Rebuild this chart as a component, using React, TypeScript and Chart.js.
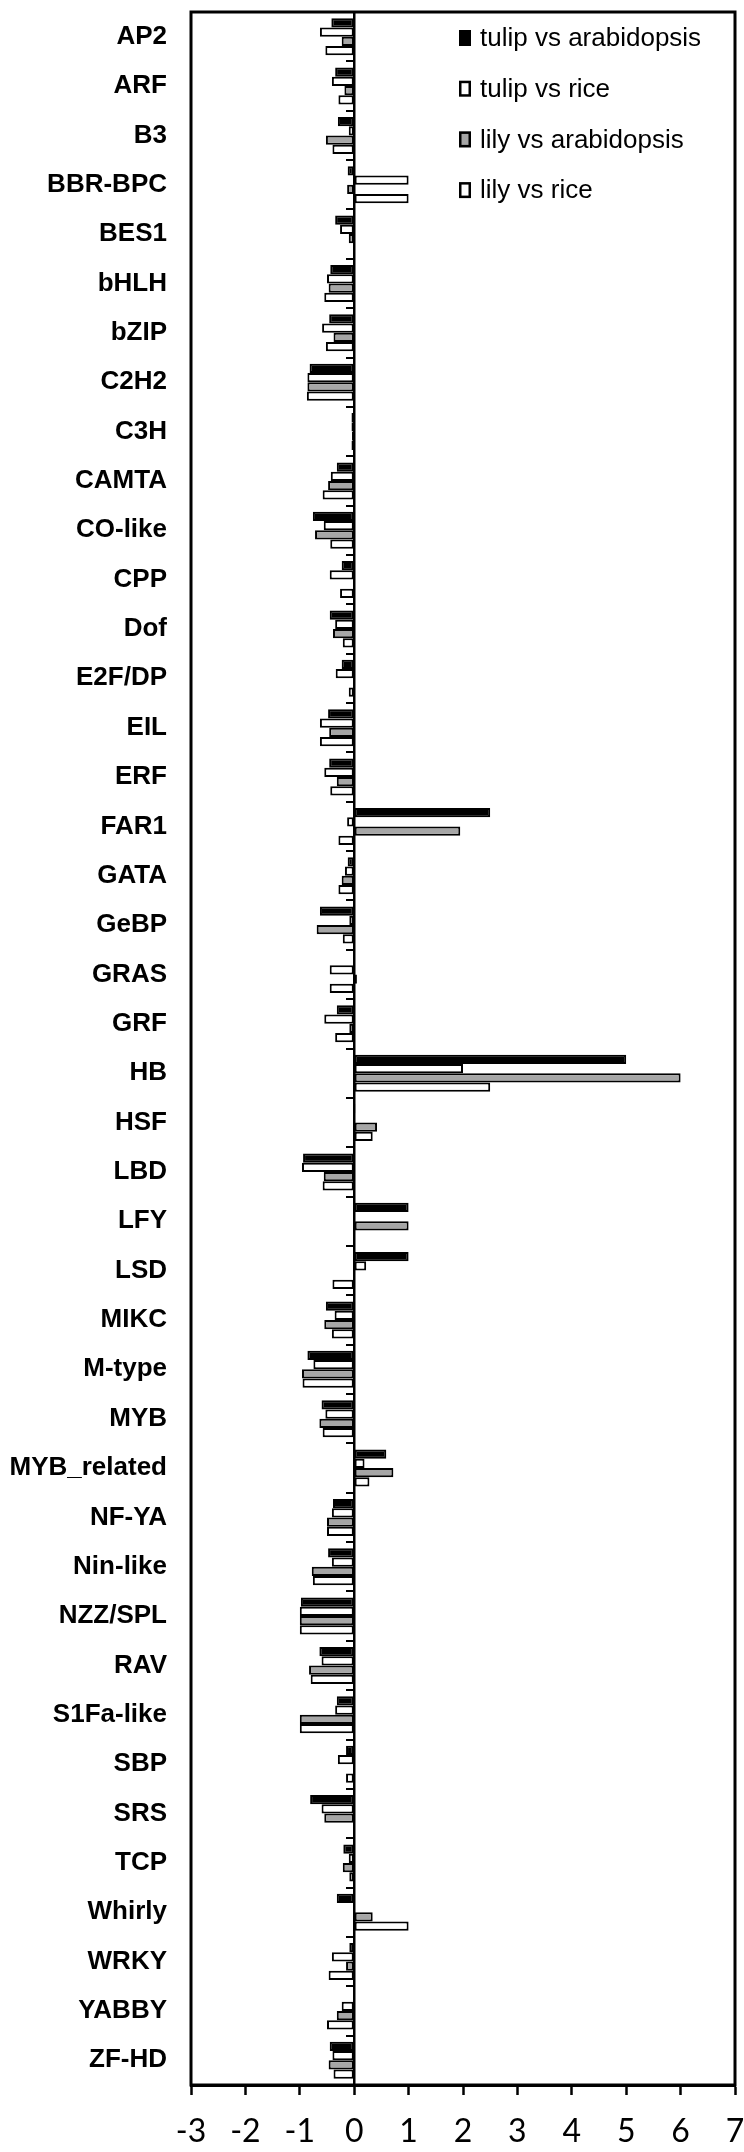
import React, { useEffect, useRef } from "react";
import { Chart, registerables } from "chart.js";

Chart.register(...registerables);

const categories = [
  "AP2", "ARF", "B3", "BBR-BPC", "BES1", "bHLH", "bZIP", "C2H2", "C3H", "CAMTA",
  "CO-like", "CPP", "Dof", "E2F/DP", "EIL", "ERF", "FAR1", "GATA", "GeBP", "GRAS",
  "GRF", "HB", "HSF", "LBD", "LFY", "LSD", "MIKC", "M-type", "MYB", "MYB_related",
  "NF-YA", "Nin-like", "NZZ/SPL", "RAV", "S1Fa-like", "SBP", "SRS", "TCP", "Whirly", "WRKY",
  "YABBY", "ZF-HD",
];

const seriesLabels = ["tulip vs arabidopsis", "tulip vs rice", "lily vs arabidopsis", "lily vs rice"];

const tulipVsArabidopsis = [
  -0.42, -0.35, -0.3, -0.12, -0.35, -0.44, -0.46, -0.82, -0.05, -0.32,
  -0.76, -0.23, -0.45, -0.23, -0.48, -0.46, 2.5, -0.12, -0.63, 0,
  -0.32, 5.0, 0.02, -0.94, 1.0, 1.0, -0.52, -0.86, -0.6, 0.59,
  -0.39, -0.48, -0.98, -0.64, -0.32, -0.15, -0.81, -0.2, -0.32, -0.09,
  0, -0.45,
];

const tulipVsRice = [
  -0.63, -0.41, -0.1, 1.0, -0.26, -0.5, -0.59, -0.86, -0.05, -0.43,
  -0.56, -0.45, -0.35, -0.34, -0.63, -0.55, -0.13, -0.17, -0.09, -0.45,
  -0.55, 2.0, 0, -0.96, 0, 0.22, -0.36, -0.75, -0.53, 0.19,
  -0.41, -0.41, -1.0, -0.6, -0.35, -0.3, -0.6, -0.1, 0, -0.41,
  -0.23, -0.4,
];

const lilyVsArabidopsis = [
  -0.23, -0.18, -0.52, -0.13, -0.1, -0.47, -0.38, -0.86, -0.04, -0.48,
  -0.72, 0, -0.39, 0, -0.46, -0.32, 1.95, -0.23, -0.69, 0.05,
  -0.09, 6.0, 0.42, -0.56, 1.0, 0, -0.55, -0.96, -0.64, 0.72,
  -0.5, -0.78, -1.0, -0.83, -1.0, 0, -0.55, -0.21, 0.34, -0.15,
  -0.32, -0.47,
];

const lilyVsRice = [
  -0.53, -0.29, -0.4, 1.0, 0, -0.55, -0.52, -0.87, -0.05, -0.58,
  -0.44, -0.26, -0.21, -0.1, -0.63, -0.44, -0.29, -0.29, -0.21, -0.45,
  -0.35, 2.5, 0.34, -0.58, 0, -0.4, -0.41, -0.95, -0.58, 0.28,
  -0.5, -0.76, -1.0, -0.8, -1.0, -0.15, 0, -0.09, 1.0, -0.47,
  -0.5, -0.38,
];

const seriesFills = ["#000000", "#ffffff", "#a6a6a6", "#ffffff"];

const xMin = -3;
const xMax = 7;
const xStep = 1;

const frameAndLegend = {
  id: "frameAndLegend",
  afterDraw(chart: any) {
    const { ctx, chartArea } = chart;
    ctx.save();
    ctx.strokeStyle = "#000";
    ctx.lineWidth = 3;
    ctx.strokeRect(chartArea.left, chartArea.top, chartArea.right - chartArea.left, chartArea.bottom - chartArea.top);

    const bx = chartArea.left + 268;
    chart.data.datasets.forEach((ds: any, i: number) => {
      const cy = chartArea.top + 26 + i * 50.7;
      ctx.fillStyle = ds.backgroundColor;
      ctx.fillRect(bx, cy - 8, 12, 16);
      ctx.strokeStyle = "#000";
      ctx.lineWidth = 2.5;
      ctx.strokeRect(bx + 1.25, cy - 6.75, 9.5, 13.5);
      ctx.fillStyle = "#000";
      ctx.font = '26px "Liberation Sans", Arial, sans-serif';
      ctx.textBaseline = "middle";
      ctx.textAlign = "left";
      ctx.fillText(ds.label, bx + 21, cy + 1);
    });
    ctx.restore();
  },
};

export default function App() {
  const canvasRef = useRef<HTMLCanvasElement | null>(null);

  useEffect(() => {
    document.body.style.margin = "0";
    const canvas = canvasRef.current;
    if (!canvas) return;
    const seriesValues = [tulipVsArabidopsis, tulipVsRice, lilyVsArabidopsis, lilyVsRice];
    const chart = new Chart(canvas, {
      type: "bar",
      data: {
        labels: categories,
        datasets: seriesLabels.map((label, i) => ({
          label,
          data: seriesValues[i],
          backgroundColor: seriesFills[i],
          borderColor: "#000000",
          borderWidth: 2,
          borderSkipped: false,
          categoryPercentage: 0.75,
          barPercentage: 1.0,
          yAxisID: "y",
        })),
      },
      options: {
        indexAxis: "y",
        animation: false,
        responsive: false,
        devicePixelRatio: 1,
        layout: { padding: { top: 12, right: 9, left: 0, bottom: 0 } },
        plugins: {
          legend: { display: false },
          tooltip: { enabled: false },
        },
        scales: {
          x: {
            type: "linear",
            min: xMin,
            max: xMax,
            position: "bottom",
            ticks: {
              stepSize: xStep,
              color: "#000",
              padding: 17,
              font: { family: "Lato, 'Open Sans', sans-serif", size: 32 },
            },
            grid: {
              color: "rgba(0,0,0,0)",
              tickColor: "#000",
              tickLength: 10,
              tickWidth: 2.5,
              drawOnChartArea: false,
            },
            border: { display: true, color: "#000", width: 3 },
            afterFit: (s: any) => {
              s.height = 67;
              s.paddingLeft = 0;
              s.paddingRight = 0;
            },
          },
          y: {
            type: "category",
            position: "left",
            offset: true,
            ticks: {
              color: "#000",
              padding: 24,
              autoSkip: false,
              font: { family: "'Liberation Sans', Arial, sans-serif", size: 26, weight: "bold" },
            },
            grid: { display: true, drawOnChartArea: false, drawTicks: false },
            border: { display: false },
            afterFit: (s: any) => {
              s.width = 191;
              s.paddingTop = 0;
              s.paddingBottom = 0;
            },
          },
          y2: {
            type: "category",
            axis: "y",
            labels: categories,
            offset: true,
            position: { x: 0 },
            ticks: { display: false },
            grid: {
              offset: true,
              drawOnChartArea: false,
              drawTicks: true,
              tickLength: 7,
              color: "#000",
              lineWidth: 2,
            },
            border: { display: true, color: "#000", width: 2.5 },
          },
        },
      },
      plugins: [frameAndLegend],
    } as any);
    return () => chart.destroy();
  }, []);

  return (
    <div style={{ width: 744, height: 2152 }}>
      <canvas ref={canvasRef} width={744} height={2152} style={{ display: "block", width: 744, height: 2152 }} />
    </div>
  );
}
